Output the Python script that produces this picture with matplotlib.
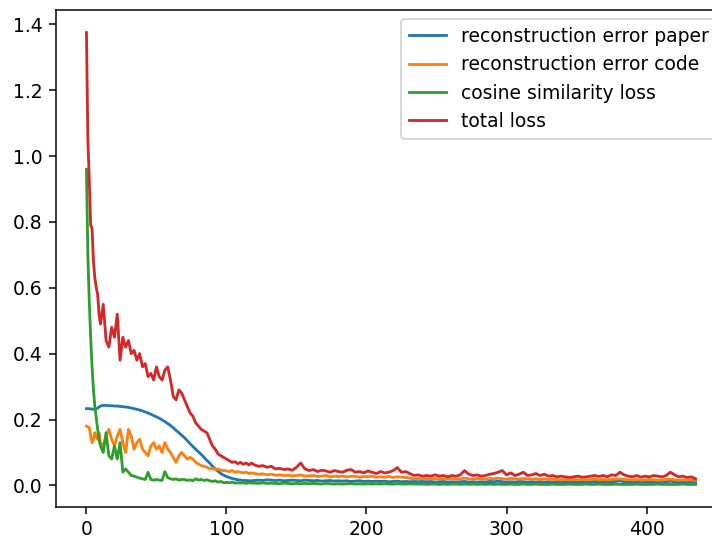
import matplotlib
matplotlib.use("Agg")
import matplotlib.pyplot as plt

# epochs
epochs = list(range(0, 10)) + list(range(10, 120, 2)) + list(range(120, 436, 3))

paper = [
    0.233, 0.233, 0.233, 0.232, 0.232, 0.231, 0.231, 0.232, 0.235, 0.238,
    # 10..118 step 2
    0.241, 0.243, 0.243, 0.242, 0.242, 0.241, 0.241, 0.240, 0.239, 0.238,
    0.237, 0.235, 0.233, 0.231, 0.229, 0.226, 0.223, 0.220, 0.216, 0.212,
    0.208, 0.204, 0.199, 0.194, 0.188, 0.182, 0.175, 0.167, 0.160, 0.152,
    0.145, 0.136, 0.127, 0.118, 0.110, 0.102, 0.094, 0.085, 0.076, 0.068,
    0.058, 0.050, 0.043, 0.036, 0.031, 0.027, 0.024, 0.021, 0.019, 0.017,
    0.016, 0.015, 0.015, 0.014, 0.014,
    # 120..435 step 3
    0.015, 0.016, 0.015, 0.017, 0.016, 0.015, 0.016, 0.014, 0.015, 0.016,
    0.015, 0.014, 0.016, 0.015, 0.014, 0.015, 0.013, 0.014, 0.015, 0.013,
    0.014, 0.013, 0.014, 0.012, 0.013, 0.014, 0.012, 0.013, 0.012, 0.013,
    0.012, 0.013, 0.011, 0.012, 0.013, 0.011, 0.012, 0.011, 0.012, 0.011,
    0.012, 0.011, 0.012, 0.010, 0.011, 0.012, 0.010, 0.011, 0.010, 0.011,
    0.012, 0.010, 0.011, 0.010, 0.011, 0.010, 0.012, 0.011, 0.013, 0.011,
    0.010, 0.011, 0.010, 0.012, 0.011, 0.010, 0.011, 0.010, 0.011, 0.010,
    0.011, 0.010, 0.011, 0.010, 0.011, 0.010, 0.011, 0.010, 0.011, 0.010,
    0.010, 0.012, 0.010, 0.011, 0.010, 0.011, 0.012, 0.014, 0.011, 0.010,
    0.011, 0.010, 0.011, 0.010, 0.011, 0.010, 0.011, 0.012, 0.011, 0.013,
    0.011, 0.010, 0.011, 0.010, 0.011, 0.010,
]

code = [
    0.180, 0.178, 0.175, 0.150, 0.130, 0.140, 0.160, 0.150, 0.140, 0.160,
    0.130, 0.120, 0.150, 0.170, 0.140, 0.120, 0.150, 0.170, 0.130, 0.100,
    0.170, 0.150, 0.110, 0.130, 0.140, 0.110, 0.100, 0.090, 0.120, 0.130,
    0.110, 0.120, 0.100, 0.130, 0.110, 0.100, 0.085, 0.070, 0.090, 0.100,
    0.090, 0.080, 0.085, 0.080, 0.070, 0.065, 0.060, 0.058, 0.055, 0.050,
    0.052, 0.048, 0.050, 0.046, 0.045, 0.044, 0.042, 0.045, 0.040, 0.042,
    0.040, 0.038, 0.040, 0.036, 0.038,
    0.036, 0.034, 0.035, 0.032, 0.034, 0.031, 0.032, 0.030, 0.031, 0.029,
    0.030, 0.032, 0.028, 0.029, 0.030, 0.027, 0.028, 0.030, 0.026, 0.028,
    0.027, 0.028, 0.026, 0.028, 0.027, 0.025, 0.027, 0.026, 0.028, 0.025,
    0.026, 0.025, 0.027, 0.024, 0.026, 0.025, 0.024, 0.022, 0.020, 0.021,
    0.020, 0.021, 0.019, 0.021, 0.020, 0.019, 0.020, 0.021, 0.019, 0.020,
    0.022, 0.020, 0.019, 0.021, 0.020, 0.019, 0.021, 0.020, 0.022, 0.020,
    0.019, 0.021, 0.020, 0.019, 0.021, 0.020, 0.019, 0.020, 0.018, 0.020,
    0.018, 0.019, 0.018, 0.017, 0.018, 0.017, 0.018, 0.017, 0.018, 0.017,
    0.018, 0.019, 0.017, 0.018, 0.017, 0.018, 0.019, 0.020, 0.018, 0.017,
    0.017, 0.018, 0.016, 0.017, 0.018, 0.017, 0.016, 0.017, 0.018, 0.019,
    0.017, 0.016, 0.017, 0.016, 0.017, 0.015,
]

cosine = [
    0.960, 0.700, 0.560, 0.450, 0.360, 0.290, 0.240, 0.205, 0.170, 0.140,
    0.120, 0.100, 0.160, 0.090, 0.080, 0.120, 0.080, 0.130, 0.040, 0.050,
    0.040, 0.030, 0.028, 0.025, 0.022, 0.020, 0.018, 0.040, 0.018, 0.016,
    0.018, 0.016, 0.015, 0.042, 0.024, 0.020, 0.018, 0.020, 0.016, 0.018,
    0.018, 0.015, 0.017, 0.014, 0.020, 0.016, 0.018, 0.015, 0.017, 0.014,
    0.012, 0.014, 0.010, 0.012, 0.008, 0.009, 0.008, 0.010, 0.007, 0.008,
    0.007, 0.008, 0.006, 0.008, 0.007,
    0.007, 0.006, 0.008, 0.006, 0.007, 0.006, 0.005, 0.007, 0.006, 0.005,
    0.006, 0.005, 0.006, 0.005, 0.006, 0.005, 0.004, 0.006, 0.005, 0.004,
    0.005, 0.004, 0.005, 0.006, 0.004, 0.005, 0.004, 0.005, 0.004, 0.005,
    0.004, 0.005, 0.004, 0.004, 0.005, 0.004, 0.004, 0.005, 0.004, 0.004,
    0.004, 0.003, 0.004, 0.004, 0.003, 0.004, 0.003, 0.004, 0.004, 0.003,
    0.004, 0.003, 0.004, 0.003, 0.004, 0.003, 0.004, 0.003, 0.004, 0.003,
    0.003, 0.004, 0.003, 0.003, 0.004, 0.003, 0.003, 0.004, 0.003, 0.003,
    0.003, 0.004, 0.003, 0.003, 0.003, 0.004, 0.003, 0.003, 0.003, 0.004,
    0.003, 0.003, 0.004, 0.003, 0.003, 0.003, 0.004, 0.003, 0.003, 0.003,
    0.003, 0.004, 0.003, 0.003, 0.003, 0.003, 0.004, 0.003, 0.003, 0.003,
    0.003, 0.003, 0.004, 0.003, 0.003, 0.003,
]

total = [
    1.375, 1.050, 0.930, 0.790, 0.780, 0.680, 0.630, 0.600, 0.580, 0.520,
    0.490, 0.550, 0.440, 0.420, 0.480, 0.450, 0.520, 0.380, 0.450, 0.420,
    0.440, 0.400, 0.410, 0.380, 0.400, 0.360, 0.370, 0.330, 0.340, 0.320,
    0.360, 0.330, 0.320, 0.350, 0.360, 0.320, 0.270, 0.260, 0.290, 0.280,
    0.260, 0.240, 0.220, 0.210, 0.190, 0.180, 0.170, 0.165, 0.160, 0.140,
    0.120, 0.110, 0.095, 0.090, 0.085, 0.080, 0.075, 0.070, 0.072, 0.066,
    0.070, 0.064, 0.068, 0.062, 0.068,
    0.062, 0.058, 0.060, 0.055, 0.058, 0.050, 0.052, 0.048, 0.050, 0.046,
    0.055, 0.068, 0.050, 0.045, 0.048, 0.042, 0.046, 0.044, 0.040, 0.045,
    0.042, 0.040, 0.046, 0.048, 0.040, 0.042, 0.038, 0.044, 0.040, 0.036,
    0.042, 0.038, 0.040, 0.045, 0.054, 0.040, 0.042, 0.036, 0.030, 0.032,
    0.028, 0.030, 0.028, 0.032, 0.028, 0.030, 0.026, 0.030, 0.028, 0.032,
    0.045, 0.034, 0.030, 0.032, 0.028, 0.030, 0.034, 0.036, 0.040, 0.045,
    0.032, 0.038, 0.030, 0.034, 0.040, 0.030, 0.032, 0.036, 0.030, 0.034,
    0.028, 0.030, 0.026, 0.028, 0.026, 0.024, 0.026, 0.028, 0.025, 0.026,
    0.028, 0.030, 0.027, 0.030, 0.026, 0.032, 0.030, 0.040, 0.032, 0.028,
    0.026, 0.030, 0.025, 0.028, 0.026, 0.030, 0.028, 0.026, 0.030, 0.040,
    0.032, 0.026, 0.028, 0.024, 0.026, 0.020,
]

labels = ["reconstruction error paper", "reconstruction error code",
          "cosine similarity loss", "total loss"]

DPI = 135
fig = plt.figure(figsize=(712 / DPI, 538 / DPI), dpi=DPI)
ax = fig.add_axes([56 / 712, 31 / 538, 670 / 712, 497 / 538])
for series, lab in zip([paper, code, cosine, total], labels):
    ax.plot(epochs, series, label=lab)
ax.legend(loc="upper right")
fig.savefig("out.png", dpi=DPI)
